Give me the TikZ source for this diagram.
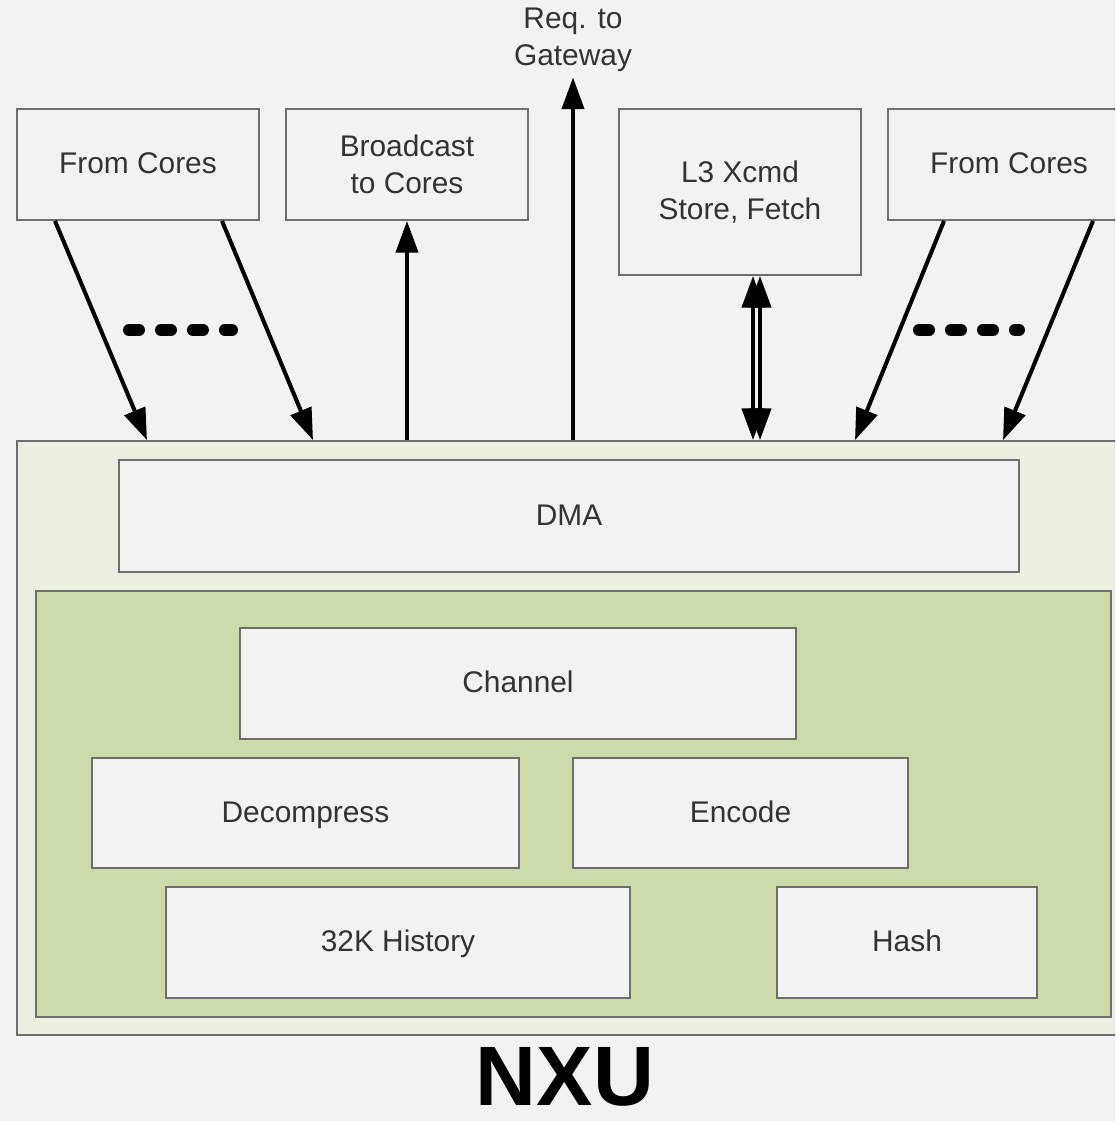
\documentclass[tikz,border=0pt]{standalone}
\usepackage{fontspec}
\setmainfont{Liberation Sans}
\usetikzlibrary{arrows.meta}
\definecolor{bgcol}{HTML}{F2F2F2}
\definecolor{linecol}{HTML}{6E6E6E}
\definecolor{nxucol}{HTML}{EBEFDF}
\definecolor{corecol}{HTML}{CBDBA9}
\definecolor{txtcol}{HTML}{333333}
\begin{document}
\begin{tikzpicture}[x=0.02cm, y=-0.02cm,
    plainbox/.style={draw=linecol, line width=1.1pt, fill=bgcol, text=txtcol, align=center,
      inner sep=0pt, font=\fontsize{17}{21}\selectfont},
    blockbox/.style={plainbox, text height=13pt, text depth=2.5pt},
    arr/.style={line width=2.3pt, -{Triangle[length=18pt, width=12.5pt]}},
    dblarr/.style={line width=2.3pt, {Triangle[length=18pt, width=12.5pt]}-{Triangle[length=18pt, width=12.5pt]}},
    morelinks/.style={line width=6.8pt, line cap=round, dash pattern=on 5.7pt off 12.5pt}]
        % background and page size
        \clip (0,0) rectangle (1115,1121);
        \fill[bgcol] (0,0) rectangle (1115,1121);

        % NXU unit
        \node[plainbox, fill=nxucol, minimum width=22.26cm, minimum height=11.88cm] (nxu) at (573.5,738) {};
        \node[blockbox, minimum width=18cm, minimum height=2.24cm] (dma) at (569,516) {DMA};
        \node[plainbox, fill=corecol, minimum width=21.5cm, minimum height=8.52cm] (core) at (573.5,804) {};
        \node[blockbox, minimum width=11.12cm, minimum height=2.22cm] (chan) at (518,683.5) {Channel};
        \node[blockbox, minimum width=8.54cm, minimum height=2.2cm] (decomp) at (305.5,813) {Decompress};
        \node[blockbox, minimum width=6.7cm, minimum height=2.2cm] (enc) at (740.5,813) {Encode};
        \node[blockbox, minimum width=9.28cm, minimum height=2.22cm] (hist) at (398,942.5) {32K History};
        \node[blockbox, minimum width=5.2cm, minimum height=2.22cm] (hash) at (907,942.5) {Hash};
        \node[text=black, inner sep=0pt, font=\fontsize{48}{56}\selectfont\bfseries] (nxulabel) at (565,1077) {NXU};

        % outside blocks
        \node[blockbox, minimum width=4.84cm, minimum height=2.22cm] (fcl) at (138,164.5) {From Cores};
        \node[plainbox, minimum width=4.84cm, minimum height=2.22cm] (bc) at (407,164.5) {Broadcast\\to Cores};
        \node[plainbox, minimum width=4.84cm, minimum height=3.32cm] (lthree) at (740,192) {L3 Xcmd\\Store, Fetch};
        \node[blockbox, minimum width=4.84cm, minimum height=2.22cm] (fcr) at (1009,164.5) {From Cores};
        \node[text=txtcol, align=center, inner sep=3pt, font=\fontsize{17}{21}\selectfont] (gw) at (573,40) {Req. to\\Gateway};

        % connections
        \draw[arr] (fcl.south -| 55,0) -- (nxu.north -| 147,0);
        \draw[arr] (fcl.south -| 222,0) -- (nxu.north -| 313,0);
        \draw[arr] (nxu.north -| 407,0) -- (bc.south);
        \draw[arr] (nxu.north -| 573,0) -- (gw.south);
        \draw[dblarr] (lthree.south -| 753,0) -- (nxu.north -| 753,0);
        \draw[dblarr] (lthree.south -| 760,0) -- (nxu.north -| 760,0);
        \draw[arr] (fcr.south -| 944,0) -- (nxu.north -| 855,0);
        \draw[arr] (fcr.south -| 1093,0) -- (nxu.north -| 1003,0);

        % more cores
        \draw[morelinks] (129,330) -- (232,330);
        \draw[morelinks] (919,330) -- (1019,330);
    \end{tikzpicture}
\end{document}
